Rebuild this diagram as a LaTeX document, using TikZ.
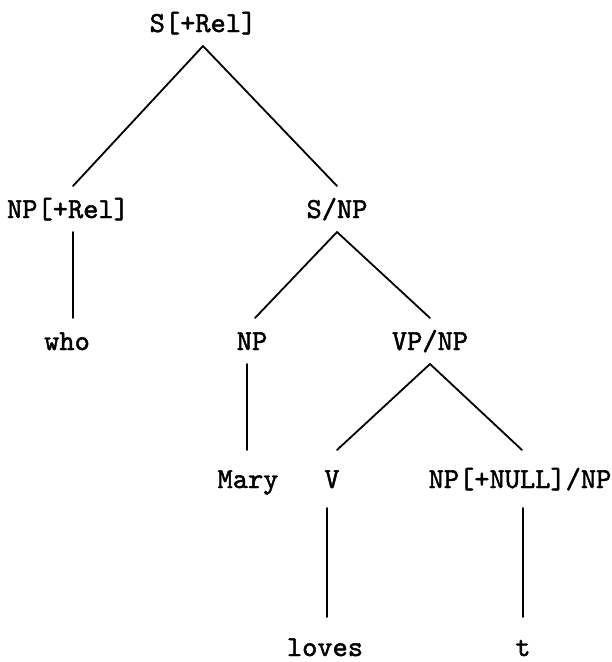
\documentclass[tikz,border=0pt]{standalone}
% typewriter face, slightly emboldened for the tree labels
\font\treefont="[lmmono10-regular]:embolden=1.6" at 29pt
\begin{document}
\begin{tikzpicture}[x=1pt,y=-1pt,
  cat/.style={font=\treefont, inner sep=0pt,
    text height=18pt, text depth=0pt, outer xsep=0pt, outer ysep=14pt, anchor=base},
  low/.style={cat, outer ysep=20pt},
  leaf/.style={cat, outer ysep=21pt},
  branch/.style={line width=1.8pt, line cap=round}]
\useasboundingbox (0,0) rectangle (612,662);

% categories and words, placed by baseline
\node[cat]  (s)     at (203,32)  {S[+Rel]};
\node[cat]  (nprel) at (68,218)  {NP[+Rel]};
\node[cat]  (snp)   at (337,218) {S/NP};
\node[cat]  (who)   at (67,350)  {who};
\node[cat]  (np)    at (252,350) {NP};
\node[cat]  (vpnp)  at (430,350) {VP/NP};
\node[low]  (mary)  at (248,488) {Mary};
\node[low]  (v)     at (332,488) {V};
\node[low]  (gap)   at (520,488) {NP[+NULL]/NP};
\node[leaf] (loves) at (325,656) {loves};
\node[leaf] (t)     at (523,656) {t};

% branches
\draw[branch] (s.south) -- ([xshift=5pt]nprel.north);
\draw[branch] (s.south) -- (snp.north);
\draw[branch] (snp.south) -- ([xshift=3pt]np.north);
\draw[branch] (snp.south) -- (vpnp.north);
\draw[branch] (vpnp.south) -- ([xshift=5pt]v.north);
\draw[branch] (vpnp.south) -- ([xshift=2pt]gap.north);

% unary branches
\draw[branch] ([xshift=5pt]nprel.south) -- ([xshift=5pt]nprel.south |- who.north);
\draw[branch] ([xshift=-5pt]np.south) -- ([xshift=-5pt]np.south |- mary.north);
\draw[branch] ([xshift=-5pt]v.south) -- ([xshift=-5pt]v.south |- loves.north);
\draw[branch] ([xshift=3pt]gap.south) -- ([xshift=3pt]gap.south |- t.north);
\end{tikzpicture}
\end{document}
